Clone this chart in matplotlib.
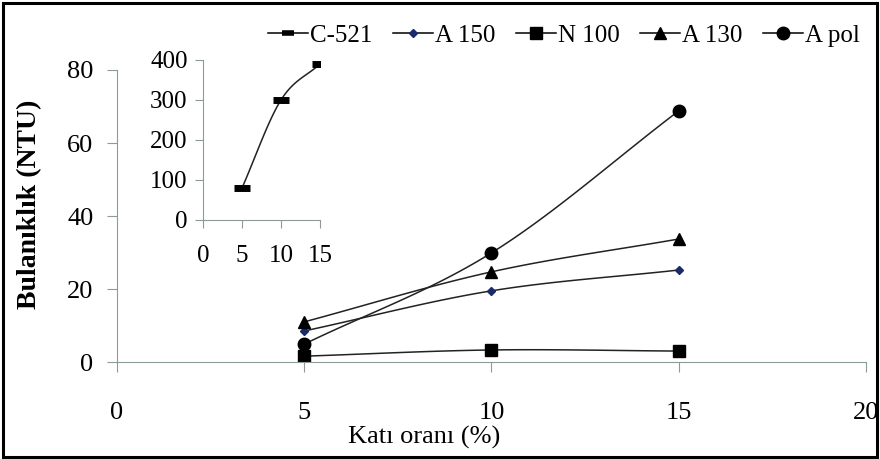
import numpy as np
import matplotlib
matplotlib.use("Agg")
import matplotlib.pyplot as plt
from matplotlib.patches import Rectangle

plt.rcParams['font.family'] = ['Liberation Serif', 'DejaVu Serif']

# solid ratio (%) and turbidity (NTU)
kati = [5, 10, 15]
a150 = [8.5, 19.5, 25.2]
n100 = [1.6, 3.3, 3.0]
a130 = [11.0, 24.7, 33.7]
apol = [4.9, 29.9, 68.8]
c521 = [80, 300, 390]

gray = '#8c9a9a'


def smooth(x, y, n=40, t=0.5):
    # cardinal spline through the points, like a spreadsheet "smoothed line"
    x = np.asarray(x, float)
    y = np.asarray(y, float)
    px = np.concatenate([[2 * x[0] - x[1]], x, [2 * x[-1] - x[-2]]])
    py = np.concatenate([[2 * y[0] - y[1]], y, [2 * y[-1] - y[-2]]])
    xs, ys = [], []
    s = np.linspace(0, 1, n)
    for i in range(1, len(px) - 2):
        m0x = t * (px[i + 1] - px[i - 1]); m1x = t * (px[i + 2] - px[i])
        m0y = t * (py[i + 1] - py[i - 1]); m1y = t * (py[i + 2] - py[i])
        h00 = 2 * s**3 - 3 * s**2 + 1; h10 = s**3 - 2 * s**2 + s
        h01 = -2 * s**3 + 3 * s**2; h11 = s**3 - s**2
        xs.append(h00 * px[i] + h10 * m0x + h01 * px[i + 1] + h11 * m1x)
        ys.append(h00 * py[i] + h10 * m0y + h01 * py[i + 1] + h11 * m1y)
    return np.concatenate(xs), np.concatenate(ys)


fig = plt.figure(figsize=(8.8, 4.59), dpi=100)
fig.patches.append(Rectangle((0.003, 0.004), 0.994, 0.99, transform=fig.transFigure,
                             fill=False, edgecolor='black', linewidth=2.2))

ax = fig.add_axes([0.133, 0.2113, 0.851, 0.6362])
series = [
    ('A 150', a150, dict(marker='D', markersize=4.5, markerfacecolor='#1a2a6c', markeredgecolor='#1a2a6c')),
    ('N 100', n100, dict(marker='s', markersize=8)),
    ('A 130', a130, dict(marker='^', markersize=8)),
    ('A pol', apol, dict(marker='o', markersize=9)),
]
handles = []
for name, vals, mk in series:
    sx, sy = smooth(kati, vals)
    ax.plot(sx, sy, color='#222222', linewidth=1.1)
    ax.plot(kati, vals, linestyle='none', color='black', **mk)
    handles.append(ax.plot([], [], color='black', linewidth=1.1, label=name, **mk)[0])

ax.set_xlim(0, 20)
ax.set_ylim(0, 80)
ax.set_xticks([0, 5, 10, 15, 20])
ax.set_yticks([0, 20, 40, 60, 80])
for side in ['top', 'right']:
    ax.spines[side].set_visible(False)
for side in ['left', 'bottom']:
    ax.spines[side].set_color(gray)
ax.tick_params(axis='both', colors=gray, labelcolor='black', labelsize=19, length=7)
ax.tick_params(axis='x', pad=22)
ax.tick_params(axis='y', pad=10)
ax.set_xlabel('Katı oranı (%)', fontsize=19, labelpad=1, x=0.41)
ax.set_ylabel('Bulanıklık (NTU)', fontsize=20, fontweight='bold', labelpad=18, y=0.54)

# inset with C-521
ins = fig.add_axes([0.2307, 0.5207, 0.1329, 0.3486])
sx, sy = smooth(kati, c521)
ins.plot(sx, sy, color='#222222', linewidth=1.1)
ins.plot(kati, c521, linestyle='none', color='black', marker='_', markersize=11, markeredgewidth=5)
ins.set_xlim(0, 15)
ins.set_ylim(0, 400)
ins.set_xticks([0, 5, 10, 15])
ins.set_yticks([0, 100, 200, 300, 400])
for side in ['top', 'right']:
    ins.spines[side].set_visible(False)
for side in ['left', 'bottom']:
    ins.spines[side].set_color(gray)
ins.tick_params(axis='both', colors=gray, labelcolor='black', labelsize=18, length=6)
ins.tick_params(axis='x', pad=12)
ins.tick_params(axis='y', pad=5)
ins.patch.set_alpha(0)

c_handle = ins.plot([], [], color='black', linewidth=1.1, marker='_', markersize=9,
                    markeredgewidth=4, label='C-521')[0]
fig.legend([c_handle] + handles, ['C-521', 'A 150', 'N 100', 'A 130', 'A pol'],
           loc='center', bbox_to_anchor=(0.641, 0.922), ncol=5, frameon=False,
           fontsize=18, handlelength=1.6, handletextpad=0.1, columnspacing=0.8)

fig.savefig('out.png', dpi=100)
